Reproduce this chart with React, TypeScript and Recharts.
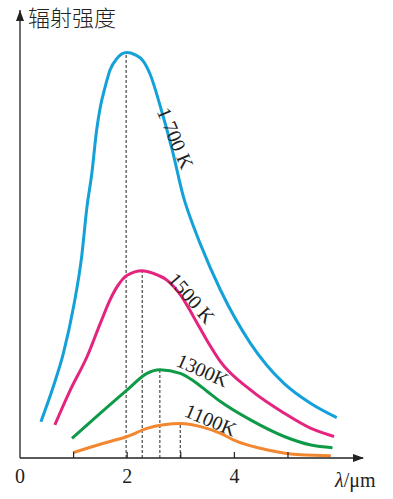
import React from 'react';
import { LineChart, Line, XAxis, YAxis, ReferenceLine, ReferenceDot } from 'recharts';

// spectral radiance curves (x in µm, y in arbitrary units)
const curve1700 = [
  { x: 0.39, y: 8.1 }, { x: 0.62, y: 15.9 }, { x: 0.81, y: 23.4 }, { x: 1.0, y: 33.8 },
  { x: 1.15, y: 44.9 }, { x: 1.25, y: 56.1 }, { x: 1.34, y: 63.5 }, { x: 1.43, y: 73.2 },
  { x: 1.5, y: 78.4 }, { x: 1.59, y: 82.9 }, { x: 1.68, y: 86.6 }, { x: 1.81, y: 89.2 },
  { x: 1.99, y: 90.5 }, { x: 2.15, y: 90.0 }, { x: 2.3, y: 88.6 }, { x: 2.43, y: 85.6 },
  { x: 2.62, y: 78.4 }, { x: 2.84, y: 68.8 }, { x: 3.05, y: 58.3 }, { x: 3.24, y: 51.6 },
  { x: 3.36, y: 47.9 }, { x: 3.74, y: 37.5 }, { x: 4.3, y: 25.6 }, { x: 4.92, y: 16.7 },
  { x: 5.42, y: 12.2 }, { x: 5.91, y: 9.0 },
];

const curve1500 = [
  { x: 0.65, y: 7.4 }, { x: 0.94, y: 15.2 }, { x: 1.25, y: 22.6 }, { x: 1.5, y: 30.1 },
  { x: 1.68, y: 35.3 }, { x: 1.81, y: 38.2 }, { x: 2.0, y: 40.8 }, { x: 2.28, y: 41.8 },
  { x: 2.49, y: 41.2 }, { x: 2.74, y: 39.7 }, { x: 3.0, y: 36.3 }, { x: 3.24, y: 31.5 },
  { x: 3.5, y: 26.0 }, { x: 3.74, y: 21.5 }, { x: 4.3, y: 15.2 }, { x: 4.93, y: 10.0 },
  { x: 5.43, y: 6.6 }, { x: 5.86, y: 4.8 },
];

const curve1300 = [
  { x: 0.97, y: 4.4 }, { x: 1.5, y: 10.0 }, { x: 2.0, y: 15.2 }, { x: 2.37, y: 18.9 },
  { x: 2.61, y: 19.7 }, { x: 2.99, y: 18.9 }, { x: 3.24, y: 17.2 }, { x: 3.5, y: 14.8 },
  { x: 3.74, y: 12.6 }, { x: 4.3, y: 8.5 }, { x: 4.93, y: 4.8 }, { x: 5.43, y: 2.9 },
  { x: 5.83, y: 2.3 },
];

const curve1100 = [
  { x: 0.99, y: 1.2 }, { x: 1.56, y: 3.3 }, { x: 2.0, y: 4.8 }, { x: 2.37, y: 6.6 },
  { x: 2.68, y: 7.4 }, { x: 2.99, y: 7.7 }, { x: 3.37, y: 7.0 }, { x: 3.74, y: 5.5 },
  { x: 3.99, y: 4.0 }, { x: 4.62, y: 1.8 }, { x: 5.24, y: 0.7 }, { x: 5.8, y: 0.5 },
];

// peak wavelengths (dashed drop lines) and peak heights
const peakX = [1.98, 2.28, 2.61, 2.99];
const peakY = [90.5, 41.8, 19.7, 7.7];

const curveLabels = ['1 700 K', '1500 K', '1300K', '1100K'];
const labelX = [2.9, 3.2, 3.41, 3.56];
const labelY = [71.4, 35.7, 19.6, 8.5];
const labelAngle = [67, 49, 24, 23];

const xTicks = [0, 1, 2, 3, 4, 5];
const xTickLabels = ['0', '', '2', '', '4', ''];

const colors = ['#14a0d8', '#e4247f', '#0f9a48', '#f2872f'];
const curves = [curve1700, curve1500, curve1300, curve1100];

const serif = '"Liberation Serif", "DejaVu Serif", serif';

const XTick = (props: any) => {
  const { x, y, payload, index } = props;
  const label = xTickLabels[index];
  return (
    <g>
      {payload.value > 0 && <line x1={x} y1={y} x2={x} y2={y - 6} stroke="#222" strokeWidth={1.2} />}
      {label && (
        <text x={x} y={y + 25} textAnchor="middle" fontFamily={serif} fontSize={20} fill="#222">
          {label}
        </text>
      )}
    </g>
  );
};

const makeLabelShape = (i: number) => (props: any) => {
  const { cx, cy } = props;
  return (
    <text
      x={cx}
      y={cy}
      textAnchor="middle"
      dominantBaseline="central"
      fontFamily={serif}
      fontSize={20}
      fill="#222"
      transform={`rotate(${labelAngle[i]}, ${cx}, ${cy})`}
    >
      {curveLabels[i]}
    </text>
  );
};

const XArrow = (props: any) => {
  const { cx, cy } = props;
  return (
    <g>
      <path d={`M${cx + 1},${cy} L${cx - 10},${cy - 4} L${cx - 10},${cy + 4} Z`} fill="#222" />
      <text x={cx - 28} y={cy + 29} textAnchor="start" fontFamily={serif} fontSize={20} fill="#222">
        <tspan fontStyle="italic">λ</tspan>/μm
      </text>
    </g>
  );
};

const YArrow = (props: any) => {
  const { cx, cy } = props;
  return (
    <g>
      <path d={`M${cx},${cy} L${cx - 4},${cy + 11} L${cx + 4},${cy + 11} Z`} fill="#222" />
      <text x={cx + 8} y={cy + 16} fontFamily='"Noto Sans CJK SC", sans-serif' fontWeight={300} fontSize={22} fill="#222">
        辐射强度
      </text>
    </g>
  );
};

export default function App() {
  return (
    <div style={{ position: 'absolute', left: 0, top: 0, background: '#fff' }}>
      <LineChart width={393} height={499} margin={{ top: 10, right: 30, left: 20, bottom: 0 }}>
        <XAxis
          type="number"
          dataKey="x"
          domain={[0, 6.4]}
          ticks={xTicks}
          interval={0}
          height={41}
          tickSize={0}
          tickMargin={0}
          tickLine={false}
          tick={<XTick />}
          axisLine={{ stroke: '#222', strokeWidth: 1.3 }}
          allowDataOverflow
        />
        <YAxis type="number" dataKey="y" domain={[0, 100]} hide allowDataOverflow />
        <ReferenceLine x={0} stroke="#222" strokeWidth={1.3} ifOverflow="visible" />
        {peakX.map((px, i) => (
          <ReferenceLine
            key={'d' + i}
            segment={[{ x: px, y: 0 }, { x: px, y: peakY[i] }]}
            stroke="#222"
            strokeWidth={1}
            strokeDasharray="3 2"
          />
        ))}
        {curves.map((c, i) => (
          <Line
            key={'c' + i}
            data={c}
            dataKey="y"
            type="monotone"
            stroke={colors[i]}
            strokeWidth={3}
            dot={false}
            isAnimationActive={false}
          />
        ))}
        {curveLabels.map((_, i) => (
          <ReferenceDot key={'l' + i} x={labelX[i]} y={labelY[i]} r={0} shape={makeLabelShape(i)} />
        ))}
        <ReferenceDot x={6.4} y={0} r={0} shape={<XArrow />} ifOverflow="visible" />
        <ReferenceDot x={0} y={100} r={0} shape={<YArrow />} ifOverflow="visible" />
      </LineChart>
    </div>
  );
}
